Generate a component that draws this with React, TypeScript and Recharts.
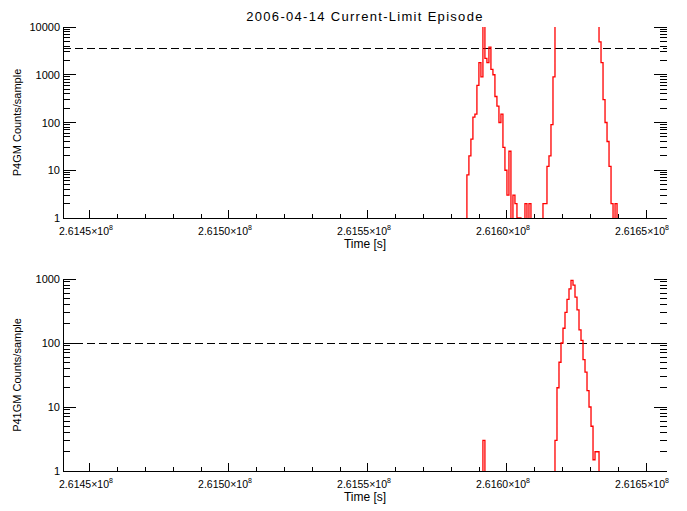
import { Line, LineChart, ReferenceLine, XAxis, YAxis } from "recharts";

// sample grid (s since epoch of the instrument clock)
const SAMPLE_START = 261584500;
const SAMPLE_STEP = 720;

// P4GM counts per sample (0 = empty sample)
const p4gmCounts = [
  0, 0, 8, 20, 45, 130, 150, 600, 1800, 900,
  12000, 2200, 1800, 3800, 1300, 1000, 350, 220, 100, 150,
  30, 10, 3, 25, 0, 3, 2, 1, 1, 0,
  0, 2, 0, 2, 0, 0, 0, 0, 0, 0,
  2, 2, 12, 20, 90, 900, 15000, 22000, 30000, 45000,
  60000, 80000, 95000, 110000, 120000, 125000, 130000, 128000, 120000, 110000,
  95000, 80000, 60000, 45000, 30000, 20000, 14000, 12000, 4900, 1800,
  300, 100, 40, 12, 2, 0, 2, 0,
];

// P41GM counts per sample, lower panel
const p41gmCounts = [
  0, 0, 0, 0, 0, 0, 0, 0, 0, 0,
  3, 0, 0, 0, 0, 0, 0, 0, 0, 0,
  0, 0, 0, 0, 0, 0, 0, 0, 0, 0,
  0, 0, 0, 0, 0, 0, 0, 0, 0, 0,
  0, 0, 0, 0, 0, 0, 3, 20, 50, 100,
  170, 300, 480, 700, 950, 800, 520, 330, 160, 110,
  55, 35, 18, 10, 5, 1.5, 2, 2, 0, 0,
  0, 0, 0, 0, 0, 0, 0, 0,
];

const X_DOMAIN = [261440300, 261657550];
const xMajorTicks = [261450000, 261500000, 261550000, 261600000, 261650000];
const xMinorStep = 10000;

const p4gmThreshold = 3500;
const p41gmThreshold = 100;

const FONT = "'Liberation Sans', Arial, sans-serif";
const CHART_W = 687;
const PLOT_LEFT = 63;
const PLOT_RIGHT = 667;

const xTicks = Array.from({ length: 21 }, (_, i) => xMajorTicks[0] + i * xMinorStep);

function xTick(side: "top" | "bottom", labels: boolean) {
  return (p: any) => {
    const v = p.payload.value;
    const major = xMajorTicks.includes(v);
    const len = major ? 8 : 4;
    const y2 = side === "bottom" ? p.y - len : p.y + len;
    return (
      <g>
        <line x1={p.x} x2={p.x} y1={p.y} y2={y2} stroke="#000" shapeRendering="crispEdges" />
        {major && labels && (
          <text x={p.x - 4} y={p.y + 17} textAnchor="middle" fontSize={10.5} fontFamily={FONT} fill="#000">
            {(v / 1e8).toFixed(4)}×10
            <tspan dy={-5} fontSize={7}>8</tspan>
          </text>
        )}
      </g>
    );
  };
}

type PanelProps = {
  counts: number[];
  decades: number[];
  threshold: number;
  yLabel: string;
  height: number;
  marginTop: number;
  marginBottom: number;
  title?: string;
};

function Panel({ counts, decades, threshold, yLabel, height, marginTop, marginBottom, title }: PanelProps) {
  const data = counts.map((v, i) => ({ t: SAMPLE_START + i * SAMPLE_STEP, v }));
  const yDomain = [decades[0], decades[decades.length - 1]];
  const plotTop = marginTop;
  const plotBottom = height - marginBottom - 30;
  const midY = (plotTop + plotBottom) / 2;
  const decadePx = (plotBottom - plotTop) / (decades.length - 1);
  // log axis position, used for the inward IDL-style y ticks
  const yPx = (v: number) => plotBottom - decadePx * Math.log10(v / decades[0]);

  const yTicks: { v: number; major: boolean }[] = [];
  decades.forEach((d, i) => {
    yTicks.push({ v: d, major: true });
    if (i < decades.length - 1) for (let m = 2; m <= 9; m++) yTicks.push({ v: m * d, major: false });
  });

  return (
    <LineChart
      width={CHART_W}
      height={height}
      data={data}
      margin={{ top: marginTop, right: CHART_W - PLOT_RIGHT, bottom: marginBottom, left: 3 }}
    >
      <XAxis
        xAxisId="b"
        dataKey="t"
        type="number"
        domain={X_DOMAIN}
        allowDataOverflow
        ticks={xTicks}
        interval={0}
        height={30}
        tickSize={0}
        tickMargin={0}
        tickLine={false}
        axisLine={{ stroke: "#000", shapeRendering: "crispEdges" }}
        tick={xTick("bottom", true)}
      />
      <XAxis
        xAxisId="t"
        orientation="top"
        type="number"
        domain={X_DOMAIN}
        allowDataOverflow
        ticks={xTicks}
        interval={0}
        height={0}
        tickSize={0}
        tickMargin={0}
        tickLine={false}
        axisLine={{ stroke: "#000", shapeRendering: "crispEdges" }}
        tick={xTick("top", false)}
      />
      <YAxis
        yAxisId="l"
        type="number"
        scale="log"
        domain={yDomain}
        allowDataOverflow
        ticks={decades}
        width={PLOT_LEFT - 3}
        tick={false}
        tickLine={false}
        axisLine={{ stroke: "#000", shapeRendering: "crispEdges" }}
      />
      <YAxis
        yAxisId="r"
        orientation="right"
        type="number"
        scale="log"
        domain={yDomain}
        allowDataOverflow
        width={0}
        tick={false}
        tickLine={false}
        axisLine={{ stroke: "#000", shapeRendering: "crispEdges" }}
      />
      <ReferenceLine
        xAxisId="b"
        yAxisId="l"
        y={threshold}
        stroke="#000"
        strokeDasharray="8 4"
        shapeRendering="crispEdges"
      />
      <Line
        xAxisId="b"
        yAxisId="l"
        type="step"
        dataKey={(d: { v: number }) => Math.max(d.v, 0.3)}
        stroke="#ff0000"
        strokeWidth={1.3}
        dot={false}
        activeDot={false}
        isAnimationActive={false}
      />
      <g className="y-ticks">
        {yTicks.map(({ v, major }) => {
          const y = yPx(v);
          const len = major ? 13 : 7;
          return (
            <g key={v}>
              <line x1={PLOT_LEFT} x2={PLOT_LEFT + len} y1={y} y2={y} stroke="#000" shapeRendering="crispEdges" />
              <line x1={PLOT_RIGHT} x2={PLOT_RIGHT - len} y1={y} y2={y} stroke="#000" shapeRendering="crispEdges" />
              {major && (
                <text x={PLOT_LEFT - 3} y={y + 4} textAnchor="end" fontSize={11} fontFamily={FONT} fill="#000">
                  {v}
                </text>
              )}
            </g>
          );
        })}
      </g>
      {title && (
        <text x={365} y={21} textAnchor="middle" fontSize={13} letterSpacing={1.3} fontFamily={FONT} fill="#000">
          {title}
        </text>
      )}
      <text x={365} y={plotBottom + 30} textAnchor="middle" fontSize={12} fontFamily={FONT} fill="#000">
        Time [s]
      </text>
      <text
        x={21}
        y={midY}
        textAnchor="middle"
        fontSize={11}
        fontFamily={FONT}
        fill="#000"
        transform={`rotate(-90 21 ${midY})`}
      >
        {yLabel}
      </text>
    </LineChart>
  );
}

export default function App() {
  return (
    <div style={{ position: "absolute", left: 0, top: 0, width: 687, height: 511, background: "#fff" }}>
      <Panel
        counts={p4gmCounts}
        decades={[1, 10, 100, 1000, 10000]}
        threshold={p4gmThreshold}
        yLabel="P4GM Counts/sample"
        height={255}
        marginTop={27}
        marginBottom={7}
        title="2006-04-14 Current-Limit Episode"
      />
      <Panel
        counts={p41gmCounts}
        decades={[1, 10, 100, 1000]}
        threshold={p41gmThreshold}
        yLabel="P41GM Counts/sample"
        height={256}
        marginTop={24}
        marginBottom={10}
      />
    </div>
  );
}
